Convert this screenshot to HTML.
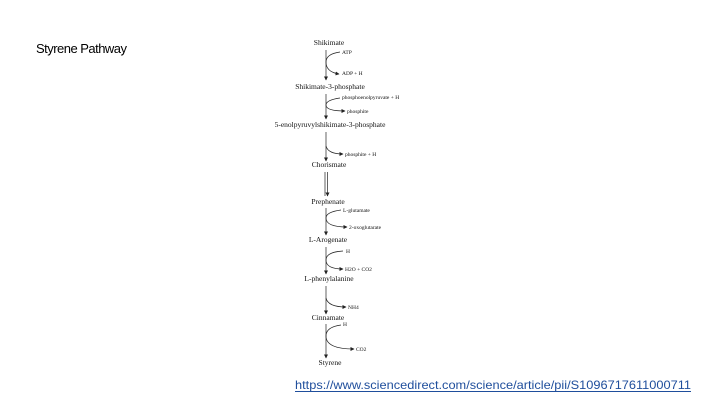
<!DOCTYPE html>
<html><head><meta charset="utf-8"><style>
html,body{margin:0;padding:0;background:#fff;width:720px;height:405px;overflow:hidden}
</style></head><body>
<svg width="720" height="405" viewBox="0 0 720 405" xmlns="http://www.w3.org/2000/svg">
<defs><marker id="a" markerWidth="4" markerHeight="4" refX="3.5" refY="2" orient="auto" markerUnits="userSpaceOnUse"><path d="M0,0 L4,2 L0,4 Z" fill="#222"/></marker></defs>
<text x="36" y="53" font-family="Liberation Sans, sans-serif" font-size="13" textLength="91" fill="#000">Styrene Pathway</text>
<g font-family="Liberation Serif, serif" fill="#111">
<g font-size="7.5" text-anchor="middle">
<text x="329" y="45">Shikimate</text>
<text x="330" y="89">Shikimate-3-phosphate</text>
<text x="330" y="127">5-enolpyruvylshikimate-3-phosphate</text>
<text x="329" y="167">Chorismate</text>
<text x="328" y="204">Prephenate</text>
<text x="328" y="242">L-Arogenate</text>
<text x="329" y="281">L-phenylalanine</text>
<text x="328" y="320">Cinnamate</text>
<text x="330" y="365">Styrene</text>
</g>
<g font-size="5.5">
<text x="342" y="54">ATP</text>
<text x="342" y="75">ADP + H</text>
<text x="342" y="99">phosphoenolpyruvate + H</text>
<text x="347" y="113">phosphite</text>
<text x="345" y="156">phosphite + H</text>
<text x="343" y="212">L-glutamate</text>
<text x="349" y="229">2-oxoglutarate</text>
<text x="346" y="253">H</text>
<text x="345" y="271">H2O + CO2</text>
<text x="348" y="309">NH4</text>
<text x="343" y="326">H</text>
<text x="356" y="351">CO2</text>
</g>
</g>
<g stroke="#222" stroke-width="0.7" fill="none">
<line x1="326" y1="50" x2="326" y2="80" marker-end="url(#a)"/>
<path d="M340,52 Q326,54 326,62 Q326,72 339,74" marker-end="url(#a)"/>
<line x1="326" y1="94" x2="326" y2="119" marker-end="url(#a)"/>
<path d="M340,98 Q326,100 326,105 Q326,111 345,111" marker-end="url(#a)"/>
<line x1="326" y1="132" x2="326" y2="161" marker-end="url(#a)"/>
<path d="M326,146 Q328,154 343,154" marker-end="url(#a)"/>
<line x1="325" y1="172" x2="325" y2="196"/>
<line x1="327.5" y1="172" x2="327.5" y2="196" marker-end="url(#a)"/>
<line x1="326" y1="208" x2="326" y2="235" marker-end="url(#a)"/>
<path d="M341,210 Q326,212 326,218 Q326,227 347,227" marker-end="url(#a)"/>
<line x1="326" y1="247" x2="326" y2="274" marker-end="url(#a)"/>
<path d="M343,251 Q326,252 326,260 Q326,269 343,269" marker-end="url(#a)"/>
<line x1="326" y1="286" x2="326" y2="314" marker-end="url(#a)"/>
<path d="M326,298 Q328,307 346,307" marker-end="url(#a)"/>
<line x1="326" y1="324" x2="326" y2="358" marker-end="url(#a)"/>
<path d="M341,325 Q326,327 326,336 Q326,349 354,349" marker-end="url(#a)"/>
</g>
<text x="295" y="389" font-family="Liberation Sans, sans-serif" font-size="12" fill="#1f4e9c" textLength="396" lengthAdjust="spacingAndGlyphs">https://www.sciencedirect.com/science/article/pii/S1096717611000711</text>
<line x1="295" y1="391.5" x2="691" y2="391.5" stroke="#1f4e9c" stroke-width="1"/>
</svg>
</body></html>
